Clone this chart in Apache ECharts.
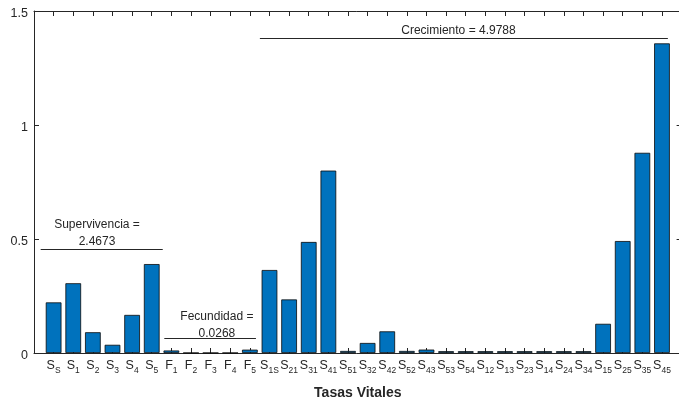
<!DOCTYPE html>
<html>
<head>
<meta charset="utf-8">
<script src="https://cdn.jsdelivr.net/npm/echarts@6/dist/echarts.min.js"></script>
<style>
  html, body { margin: 0; padding: 0; background: #fff; }
  #chart { width: 679px; height: 402px; }
</style>
</head>
<body>
<div id="chart"></div>
<script>
// Vital-rate categories: main letter and subscript separated by "_"
const categories = ['S_S','S_1','S_2','S_3','S_4','S_5',
  'F_1','F_2','F_3','F_4','F_5',
  'S_1S','S_21','S_31','S_41','S_51','S_32','S_42','S_52','S_43','S_53','S_54',
  'S_12','S_13','S_23','S_14','S_24','S_34','S_15','S_25','S_35','S_45'];

// Bar heights for each vital rate
const values = [0.222, 0.306, 0.091, 0.036, 0.167, 0.390,
  0.011, 0.0004, 0.0003, 0.0003, 0.0147,
  0.364, 0.235, 0.487, 0.800, 0.009, 0.044, 0.095, 0.009, 0.015, 0.008, 0.008,
  0.008, 0.008, 0.008, 0.008, 0.008, 0.008, 0.128, 0.491, 0.878, 1.358];

// Y tick labels
const yTicks = ['0', '0.5', '1', '1.5'];

// Group annotations
const groupLabels = ['Supervivencia =\n2.4673', 'Fecundidad =\n0.0268', 'Crecimiento = 4.9788'];

const ink = '#262626';
const font = '"Liberation Sans", Arial, Helvetica, sans-serif';

const chart = echarts.init(document.getElementById('chart'), null, { renderer: 'canvas' });

const nCat = categories.length;
const xMax = nCat + 1;

function xLabel(v) {
  const c = categories[Math.round(v) - 1];
  if (!c) return '';
  const parts = c.split('_');
  return '{m|' + parts[0] + '}{s|' + parts[1] + '}';
}

function tickStyle() {
  return { show: true, inside: true, length: 5, lineStyle: { color: ink, width: 1 } };
}
function lineStyle() {
  return { show: true, onZero: false, lineStyle: { color: ink, width: 1 } };
}

const option = {
  animation: false,
  backgroundColor: '#fff',
  textStyle: { fontFamily: font },
  grid: { left: 34, right: -2.6, top: 11, bottom: 49, containLabel: false, outerBoundsMode: 'none' },
  xAxis: [
    {
      type: 'value', min: 0, max: xMax, interval: 1,
      position: 'bottom',
      splitLine: { show: false },
      axisLine: lineStyle(),
      axisTick: tickStyle(),
      name: 'Tasas Vitales',
      nameLocation: 'middle',
      nameGap: 33,
      nameTextStyle: { fontFamily: font, fontSize: 14, fontWeight: 'bold', color: ink },
      axisLabel: {
        show: true, margin: 4, formatter: xLabel,
        showMinLabel: true, showMaxLabel: true,
        rich: {
          m: { fontFamily: font, fontSize: 12.5, color: ink },
          s: { fontFamily: font, fontSize: 8.5, color: ink, padding: [9, 0, 0, 0] }
        }
      }
    },
    {
      type: 'value', min: 0, max: xMax, interval: 1,
      position: 'top',
      splitLine: { show: false },
      axisLine: lineStyle(),
      axisTick: tickStyle(),
      axisLabel: { show: false }
    }
  ],
  yAxis: [
    {
      type: 'value', min: 0, max: 1.5, interval: 0.5,
      position: 'left',
      splitLine: { show: false },
      axisLine: lineStyle(),
      axisTick: tickStyle(),
      axisLabel: {
        show: true, margin: 6, color: ink,
        formatter: v => '{v|' + yTicks[Math.round(v / 0.5)] + '}',
        rich: { v: { fontFamily: font, fontSize: 12.5, color: ink, padding: [5, 0, 0, 0] } }
      }
    },
    {
      type: 'value', min: 0, max: 1.5, interval: 0.5,
      position: 'right',
      splitLine: { show: false },
      axisLine: lineStyle(),
      axisTick: tickStyle(),
      axisLabel: { show: false }
    }
  ],
  series: [{
    type: 'bar',
    xAxisIndex: 0, yAxisIndex: 0,
    data: values.map((v, i) => [i + 1, v]),
    barWidth: 15.7,
    itemStyle: { color: '#0072BD', borderColor: '#0a0a0a', borderWidth: 0.8 },
    markLine: {
      silent: true,
      symbol: ['none', 'none'],
      label: { show: false },
      lineStyle: { color: ink, width: 1, type: 'solid' },
      emphasis: { disabled: true },
      data: [
        [{ coord: [0.34, 0.456] }, { coord: [6.56, 0.456] }],
        [{ coord: [6.64, 0.066] }, { coord: [11.31, 0.066] }],
        [{ coord: [11.51, 1.38] }, { coord: [32.3, 1.38] }]
      ]
    },
    markPoint: {
      silent: true,
      symbol: 'circle',
      symbolSize: 0,
      label: {
        show: true, position: 'inside', fontFamily: font, fontSize: 12,
        color: ink, lineHeight: 16.5, align: 'center', verticalAlign: 'middle'
      },
      data: [
        { coord: [3.21, 0.526], value: 0, label: { formatter: groupLabels[0] } },
        { coord: [9.32, 0.123], value: 0, label: { formatter: groupLabels[1] } },
        { coord: [21.63, 1.414], value: 0, label: { formatter: groupLabels[2] } }
      ]
    }
  }]
};

chart.setOption(option);
</script>
</body>
</html>
